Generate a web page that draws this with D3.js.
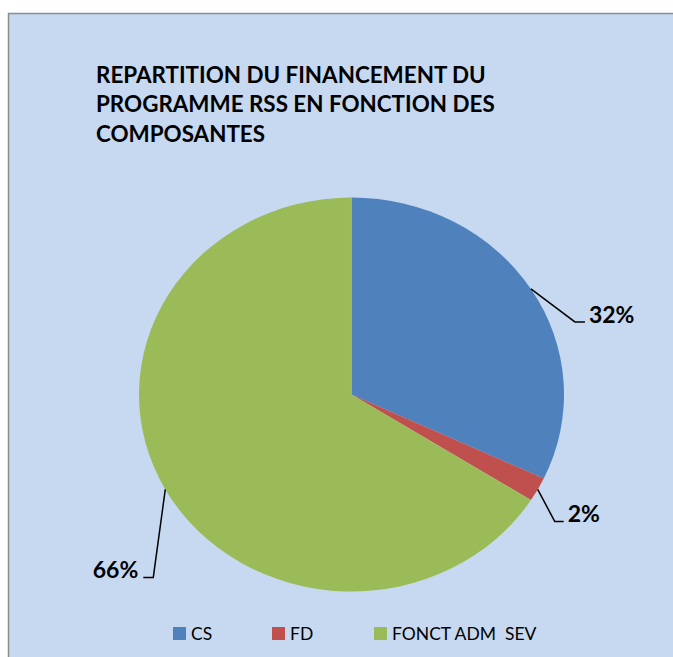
<!DOCTYPE html>
<html>
<head>
<meta charset="utf-8">
<script src="https://cdn.jsdelivr.net/npm/d3@7"></script>
<style>
  body { margin: 0; background: #ffffff; }
  svg { display: block; font-family: Lato, "Open Sans", sans-serif; }
</style>
</head>
<body>
<svg id="chart" width="673" height="657"></svg>
<script>
// data
const categories = ["CS", "FD", "FONCT ADM  SEV"];
const shares = [32, 2, 66];
const sliceColors = ["#4f81bd", "#c0504d", "#9bbb59"];
const titleLines = ["REPARTITION DU FINANCEMENT DU", "PROGRAMME RSS EN FONCTION DES", "COMPOSANTES"];

// leader line layout: elbow offset from the slice edge, then the short horizontal run
const leaders = [
    {dx: 44, dy: 33, run: 10},
    {dx: 17, dy: 32, run: 9},
    {dx: -12, dy: 88, run: -10}
];

const svg = d3.select("#chart");

// chart area background + border
svg.append("rect")
    .attr("x", 8.5).attr("y", 13.5)
    .attr("width", 680).attr("height", 660)
    .style("fill", "#c6d9f0")
    .style("stroke", "#8c8c8c")
    .style("stroke-width", 1.5);

// title
svg.append("g").selectAll("text")
    .data(titleLines)
    .enter()
    .append("text")
    .attr("x", 96)
    .attr("y", function(d, i) { return 82.5 + i * 29.5; })
    .style("font-weight", "bold")
    .style("font-size", "22.4px")
    .style("fill", "#000")
    .text(function(d) { return d; });

// pie (slightly elliptical like the original)
const cx = 351.5, cy = 394.5, rx = 212.5, ry = 197;

const pie = d3.pie().sort(null).value(function(d) { return d; });
const arcs = pie(shares);
const arc = d3.arc().innerRadius(0).outerRadius(ry);

svg.append("g")
    .attr("transform", "translate(" + cx + "," + cy + ") scale(" + (rx / ry) + ",1)")
    .selectAll("path")
    .data(arcs)
    .enter()
    .append("path")
    .attr("d", arc)
    .style("fill", function(d, i) { return sliceColors[i]; });

// data labels with leader lines
const labels = svg.append("g");
arcs.forEach(function(a, i) {
    let mid = (a.startAngle + a.endAngle) / 2;
    let x0 = cx + rx * Math.sin(mid);
    let y0 = cy - ry * Math.cos(mid);
    let L = leaders[i];
    let x1 = x0 + L.dx, y1 = y0 + L.dy;
    let x2 = x1 + L.run;
    labels.append("polyline")
        .attr("points", [[x0, y0], [x1, y1], [x2, y1]].map(function(p) { return p.join(","); }).join(" "))
        .style("fill", "none")
        .style("stroke", "#000")
        .style("stroke-width", 1.5);
    labels.append("text")
        .attr("x", L.run > 0 ? x2 + 4 : x2 - 5)
        .attr("y", y1 + 1)
        .attr("text-anchor", L.run > 0 ? "start" : "end")
        .style("font-weight", "bold")
        .style("font-size", "23px")
        .style("fill", "#000")
        .text(shares[i] + "%");
});

// legend
const legendX = d3.scaleOrdinal().domain(categories).range([173, 272, 374]);
const legend = svg.append("g").selectAll("g")
    .data(categories)
    .enter()
    .append("g")
    .attr("transform", function(d) { return "translate(" + legendX(d) + ",627)"; });

legend.append("rect")
    .attr("width", 13).attr("height", 13)
    .style("fill", function(d, i) { return sliceColors[i]; });

legend.append("text")
    .attr("x", 18)
    .attr("y", 12.5)
    .style("font-size", "17.5px")
    .style("fill", "#000")
    .style("white-space", "pre")
    .attr("xml:space", "preserve")
    .text(function(d) { return d; });
</script>
</body>
</html>
